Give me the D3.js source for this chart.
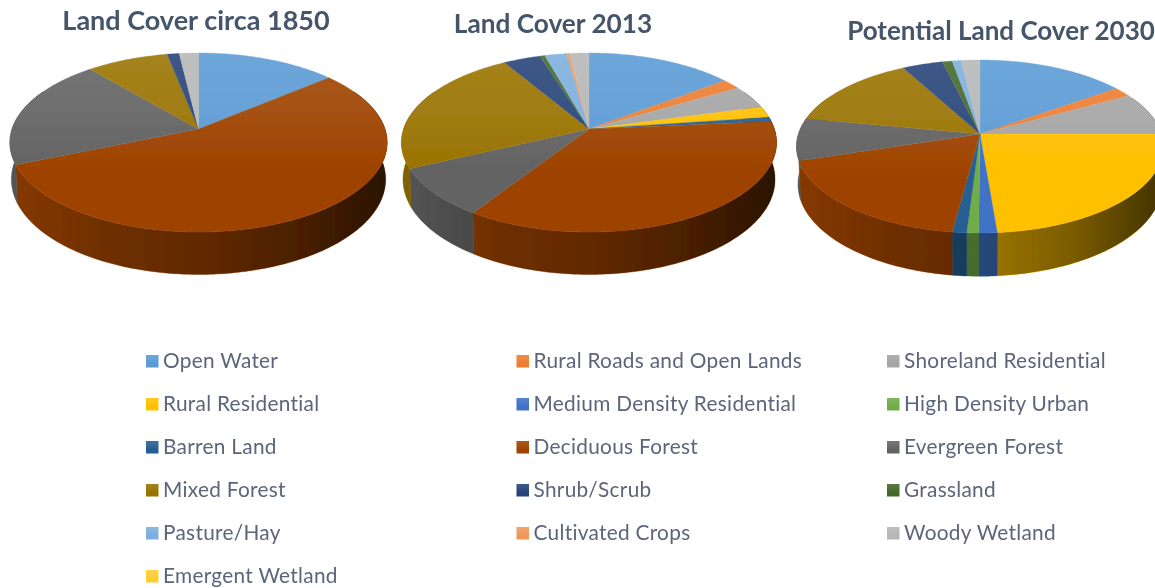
<!DOCTYPE html>
<html><head><meta charset="utf-8">
<script src="https://cdn.jsdelivr.net/npm/d3@7"></script>
<style>
html,body{margin:0;padding:0;background:#fff;overflow:hidden}
svg{display:block}
text{font-family:Lato,"Open Sans",sans-serif}
</style></head><body>
<script>
const categories=["Open Water","Rural Roads and Open Lands","Shoreland Residential","Rural Residential","Medium Density Residential","High Density Urban","Barren Land","Deciduous Forest","Evergreen Forest","Mixed Forest","Shrub/Scrub","Grassland","Pasture/Hay","Cultivated Crops","Woody Wetland","Emergent Wetland"];
const colors=["#5b9bd5","#ed7d31","#a5a5a5","#ffc000","#3f72c8","#70ad47","#255e91","#9e4300","#636363","#997300","#264478","#43682b","#7cafdd","#f1975a","#b7b7b7","#ffcd33"];
const values1850=[13.9,0,0,0,0,0,0,54.8,20.1,8.1,1.2,0,0,0,1.9,0];
const values2013=[14.7,1.9,4.2,2,0,0,0.8,35.6,8.8,23.4,3.7,0.5,2.2,0.3,1.9,0];
const values2030=[15.1,1.9,8,23.7,1.4,0.9,1.1,18,7.9,14.1,4.1,1,0.9,0,1.9,0];
const titles=["Land Cover circa 1850","Land Cover 2013","Potential Land Cover 2030"];

const W=1155,H=588;
const svg=d3.select("body").append("svg").attr("width",W).attr("height",H).attr("viewBox",`0 0 ${W} ${H}`);
const defs=svg.append("defs");
defs.append("filter").attr("id","soft").attr("x","-5%").attr("y","-5%").attr("width","110%").attr("height","110%")
  .append("feGaussianBlur").attr("stdDeviation",0.45);
defs.append("filter").attr("id","softText").attr("x","-5%").attr("y","-20%").attr("width","110%").attr("height","140%")
  .append("feGaussianBlur").attr("stdDeviation",0.35);
const wallG=defs.append("linearGradient").attr("id","wallShade").attr("x1",0).attr("x2",1).attr("y1",0).attr("y2",0);
[[0,.15],[.25,.3],[.5,.38],[.75,.52],[1,.74]].forEach(s=>wallG.append("stop").attr("offset",s[0]).attr("stop-color","#000").attr("stop-opacity",s[1]));
const topG=defs.append("linearGradient").attr("id","topSheen").attr("x1",0).attr("x2",0).attr("y1",0).attr("y2",1);
[[0,.11],[.3,.08],[.65,0],[1,0]].forEach(s=>topG.append("stop").attr("offset",s[0]).attr("stop-color","#fff").attr("stop-opacity",s[1]));

const layouts=[
 {vals:values1850,cx:198.5,cy:129,R:186.5,h:87.5,k:-0.151,d:36,tx:196,ty:30,fs:27},
 {vals:values2013,cx:589,cy:129,R:185.4,h:87.5,k:-0.151,d:36,tx:553,ty:33,fs:26.2},
 {vals:values2030,cx:980,cy:134,R:181.6,h:84.7,k:-0.1445,d:37,tx:1001,ty:40,fs:26}
];
const pie=d3.pie().sort(null).value(d=>d.v).startAngle(0).endAngle(2*Math.PI);
const line=d3.line();
const wallMin=1.1,wallMax=2*Math.PI-1.1;

layouts.forEach((p,i)=>{
  const proj=(a,low)=>{
    const u=Math.sin(a),v=-Math.cos(a),s=1/(1+p.k*v);
    return low?[p.cx+0.992*p.R*u*s,p.cy+p.h*v*s+p.d*s]:[p.cx+p.R*u*s,p.cy+p.h*v*s];
  };
  const samples=(a0,a1)=>{const n=Math.max(2,Math.ceil((a1-a0)/0.015));return d3.range(n+1).map(j=>a0+(a1-a0)*j/n);};
  const arcs=pie(p.vals.map((v,j)=>({v,j}))).filter(s=>s.data.v>0);
  const g=svg.append("g").attr("class","pie").attr("filter","url(#soft)");
  const wall=(a0,a1)=>{const t=samples(a0,a1);return line([...t.map(a=>proj(a,false)),...t.slice().reverse().map(a=>proj(a,true))])+"Z";};
  g.selectAll("path.wall").data(arcs.filter(s=>s.endAngle>wallMin&&s.startAngle<wallMax)).join("path").attr("class","wall")
    .attr("d",s=>wall(Math.max(s.startAngle,wallMin),Math.min(s.endAngle,wallMax)))
    .attr("fill",s=>colors[s.data.j]).attr("stroke",s=>colors[s.data.j]).attr("stroke-width",0.4);
  g.append("path").attr("d",wall(wallMin,wallMax)).attr("fill","url(#wallShade)");
  const slice=s=>line([[p.cx,p.cy],...samples(s.startAngle,s.endAngle).map(a=>proj(a,false))])+"Z";
  g.selectAll("path.top").data(arcs).join("path").attr("class","top")
    .attr("d",slice).attr("fill",s=>colors[s.data.j]).attr("stroke",s=>colors[s.data.j]).attr("stroke-width",0.3);
  g.append("path").attr("d",line(samples(0,2*Math.PI).map(a=>proj(a,false)))+"Z").attr("fill","url(#topSheen)");
  svg.append("text").attr("x",p.tx).attr("y",p.ty).attr("text-anchor","middle").attr("filter","url(#softText)")
    .attr("font-size",p.fs).attr("font-weight",700).attr("fill","#44546a").text(titles[i]);
});

const rowY=d3.scaleLinear().domain([0,5]).range([361,576]);
const leg=svg.selectAll("g.leg").data(categories).join("g").attr("class","leg")
  .attr("transform",(d,i)=>`translate(${[146,516.5,887][i%3]},${rowY(Math.floor(i/3))})`);
leg.append("rect").attr("x",0).attr("y",-6).attr("width",12.5).attr("height",12.5).attr("fill",(d,i)=>colors[i]);
leg.append("rect").attr("x",0).attr("y",-6).attr("width",12.5).attr("height",12.5).attr("fill","url(#topSheen)");
leg.append("text").attr("x",17).attr("y",7).attr("font-size",20.8).attr("letter-spacing",0.3).attr("filter","url(#softText)").attr("fill","#5b6579").text(d=>d);
</script>
</body></html>
